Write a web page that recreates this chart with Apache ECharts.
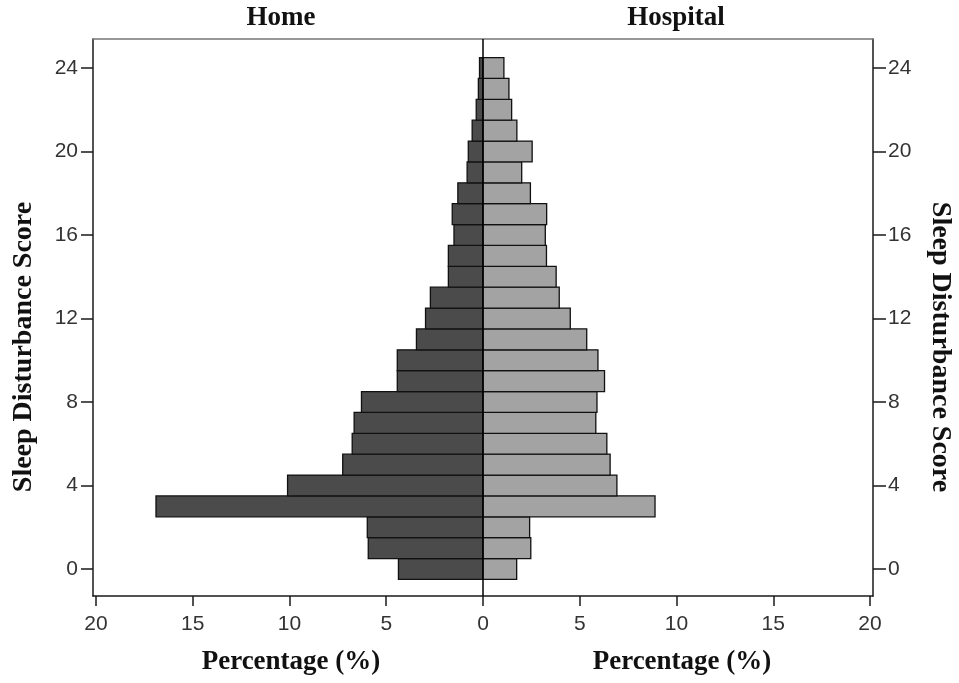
<!DOCTYPE html>
<html>
<head>
<meta charset="utf-8">
<script src="https://cdn.jsdelivr.net/npm/echarts@6/dist/echarts.min.js"></script>
<style>html,body{margin:0;padding:0;background:#fff}#c{width:959px;height:683px}</style>
</head>
<body>
<div id="c"></div>
<script>
const scores = [0,1,2,3,4,5,6,7,8,9,10,11,12,13,14,15,16,17,18,19,20,21,22,23,24];
const homeValues = [4.37,5.93,5.98,16.9,10.1,7.25,6.76,6.66,6.28,4.43,4.43,3.44,2.97,2.72,1.79,1.79,1.5,1.59,1.3,0.82,0.76,0.56,0.35,0.24,0.18];
const hospitalValues = [1.74,2.47,2.41,8.89,6.92,6.57,6.4,5.83,5.89,6.28,5.94,5.36,4.51,3.94,3.78,3.28,3.22,3.29,2.45,2.0,2.54,1.75,1.48,1.34,1.08];
const xTicks = [-20,-15,-10,-5,0,5,10,15,20];
const yTicks = [0,4,8,12,16,20,24];
const groupTitles = ['Home','Hospital'];
const xTitle = 'Percentage (%)';
const yTitle = 'Sleep Disturbance Score';

const chart = echarts.init(document.getElementById('c'));
const serif = "'Liberation Serif', 'DejaVu Serif', serif";
const sans = "'Liberation Sans', Arial, sans-serif";

function barRenderer(sign, fill) {
  return function (params, api) {
    const s = api.value(0), v = api.value(1);
    const p1 = api.coord([0, s + 0.5]);
    const p2 = api.coord([sign * v, s - 0.5]);
    return {
      type: 'rect',
      shape: {x: Math.min(p1[0], p2[0]), y: p1[1], width: Math.abs(p2[0] - p1[0]), height: p2[1] - p1[1]},
      style: {fill: fill, stroke: '#111', lineWidth: 1.3}
    };
  };
}

const labelStyle = {color: '#333', fontFamily: sans, fontSize: 21};

chart.setOption({
  animation: false,
  grid: {left: 93, right: 86, top: 39, bottom: 87},
  xAxis: [{
    type: 'value', min: -20.155, max: 20.155, position: 'bottom',
    splitLine: {show: false},
    axisLine: {show: true, onZero: false, lineStyle: {color: '#1a1a1a', width: 1.5}},
    axisTick: {show: true, length: 10, customValues: xTicks, lineStyle: {color: '#1a1a1a', width: 1.5}},
    axisLabel: Object.assign({customValues: xTicks, margin: 18, formatter: v => String(Math.abs(v))}, labelStyle)
  }, {
    type: 'value', min: -20.155, max: 20.155, position: 'top',
    splitLine: {show: false},
    axisLine: {show: true, onZero: false, lineStyle: {color: '#777', width: 1.5}},
    axisTick: {show: false}, axisLabel: {show: false}
  }],
  yAxis: [{
    type: 'value', min: -1.293, max: 25.389, position: 'left',
    splitLine: {show: false},
    axisLine: {show: true, onZero: false, lineStyle: {color: '#1a1a1a', width: 1.5}},
    axisTick: {show: true, length: 12, customValues: yTicks, lineStyle: {color: '#1a1a1a', width: 1.5}},
    axisLabel: Object.assign({customValues: yTicks, margin: 15}, labelStyle)
  }, {
    type: 'value', min: -1.293, max: 25.389, position: 'right',
    splitLine: {show: false},
    axisLine: {show: true, onZero: false, lineStyle: {color: '#1a1a1a', width: 1.5}},
    axisTick: {show: true, length: 13, customValues: yTicks, lineStyle: {color: '#1a1a1a', width: 1.5}},
    axisLabel: Object.assign({customValues: yTicks, margin: 15}, labelStyle)
  }],
  graphic: [
    {type: 'text', x: 281, y: 18, style: {text: groupTitles[0], font: "bold 27px " + serif, fill: '#111', textAlign: 'center', textVerticalAlign: 'middle'}},
    {type: 'text', x: 676, y: 18, style: {text: groupTitles[1], font: "bold 27px " + serif, fill: '#111', textAlign: 'center', textVerticalAlign: 'middle'}},
    {type: 'text', x: 291, y: 662, style: {text: xTitle, font: "bold 27px " + serif, fill: '#111', textAlign: 'center', textVerticalAlign: 'middle'}},
    {type: 'text', x: 682, y: 662, style: {text: xTitle, font: "bold 27px " + serif, fill: '#111', textAlign: 'center', textVerticalAlign: 'middle'}},
    {type: 'text', x: 24, y: 347, rotation: Math.PI / 2, style: {text: yTitle, font: "bold 28px " + serif, fill: '#111', textAlign: 'center', textVerticalAlign: 'middle'}},
    {type: 'text', x: 940, y: 347, rotation: -Math.PI / 2, style: {text: yTitle, font: "bold 28px " + serif, fill: '#111', textAlign: 'center', textVerticalAlign: 'middle'}}
  ],
  series: [{
    name: groupTitles[0], type: 'custom', xAxisIndex: 0, yAxisIndex: 0,
    renderItem: barRenderer(-1, '#4b4b4b'),
    data: scores.map((s, i) => [s, homeValues[i]]),
    encode: {y: 0, x: 1}, z: 2
  }, {
    name: groupTitles[1], type: 'custom', xAxisIndex: 0, yAxisIndex: 0,
    renderItem: barRenderer(1, '#a3a3a3'),
    data: scores.map((s, i) => [s, hospitalValues[i]]),
    encode: {y: 0, x: 1}, z: 2,
    markLine: {
      silent: true, symbol: 'none', label: {show: false}, z: 5,
      lineStyle: {color: '#000', width: 1.5, type: 'solid'},
      data: [{xAxis: 0}]
    }
  }]
});
</script>
</body>
</html>
